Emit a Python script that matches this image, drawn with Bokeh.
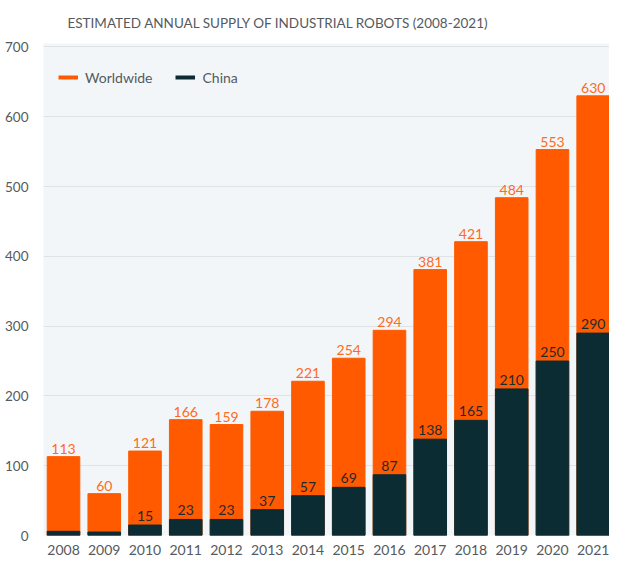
from bokeh.plotting import figure
from bokeh.models import ColumnDataSource, Range1d, FixedTicker, Legend, LegendItem, LabelSet, Title
from bokeh.core.properties import value
from bokeh.embed import file_html
from bokeh.resources import INLINE

years = [2008, 2009, 2010, 2011, 2012, 2013, 2014, 2015, 2016, 2017, 2018, 2019, 2020, 2021]
worldwide = [113, 60, 121, 166, 159, 178, 221, 254, 294, 381, 421, 484, 553, 630]
china = [6, 5, 15, 23, 23, 37, 57, 69, 87, 138, 165, 210, 250, 290]
china_labels = ["", "", "15", "23", "23", "37", "57", "69", "87", "138", "165", "210", "250", "290"]
y_ticks = [0, 100, 200, 300, 400, 500, 600, 700]

ORANGE = "#ff5a00"
DARK = "#0c2c33"
GREY = "#555a5e"
FONT = "Lato"

src = ColumnDataSource(dict(
    year=years, world=worldwide, china=china,
    wlab=[str(v) for v in worldwide], clab=china_labels,
))

p = figure(width=609, height=557, output_backend="svg", toolbar_location=None,
           x_range=Range1d(2007.509, 2021.40), y_range=Range1d(0, 705),
           min_border_left=43, min_border_right=0, min_border_top=43, min_border_bottom=20)

p.background_fill_color = "#f3f6f8"
p.border_fill_color = "white"
p.outline_line_color = None

p.vbar(x="year", top="world", width=0.8, source=src, color=ORANGE)
p.vbar(x="year", top="china", width=0.8, source=src, color=DARK)

p.add_layout(LabelSet(x="year", y="world", text="wlab", source=src, text_align="center",
                      text_baseline="bottom", y_offset=3, text_color="#ff6a1c",
                      text_font=value(FONT), text_font_size="14px"))
p.add_layout(LabelSet(x="year", y="china", text="clab", source=src, text_align="center",
                      text_baseline="bottom", y_offset=4, text_color="#1f2a2e",
                      text_font=value(FONT), text_font_size="14px"))

p.xaxis.ticker = FixedTicker(ticks=years)
p.yaxis.ticker = FixedTicker(ticks=y_ticks)
for ax in (p.xaxis, p.yaxis):
    ax.axis_line_color = None
    ax.major_tick_line_color = None
    ax.minor_tick_line_color = None
    ax.major_label_text_color = GREY
    ax.major_label_text_font = FONT
    ax.major_label_text_font_size = "14px"
p.yaxis.major_label_text_font_size = "13.5px"
p.xaxis.major_label_standoff = 3
p.yaxis.major_label_standoff = 9

p.xgrid.grid_line_color = None
p.ygrid.grid_line_color = "#dfe3e6"
p.ygrid.grid_line_width = 1

nan = float("nan")
lw = p.line(x=[nan], y=[nan], line_color=ORANGE, line_width=4)
lc = p.line(x=[nan], y=[nan], line_color=DARK, line_width=4)
legend = Legend(items=[LegendItem(label="Worldwide", renderers=[lw]),
                       LegendItem(label="China", renderers=[lc])],
                orientation="horizontal", location=(15, 448),
                background_fill_alpha=0, border_line_color=None,
                glyph_width=20, glyph_height=20, label_text_font=FONT,
                label_text_font_size="14px", label_text_color=GREY,
                spacing=23, padding=3, margin=0, label_standoff=7)
p.add_layout(legend)

p.title = Title(text="ESTIMATED ANNUAL SUPPLY OF INDUSTRIAL ROBOTS (2008-2021)",
                align="left", offset=24, text_font=FONT, text_font_size="13.5px",
                text_font_style="normal", text_color=GREY, standoff=25)

open("out.html", "w").write(file_html(p, INLINE))
